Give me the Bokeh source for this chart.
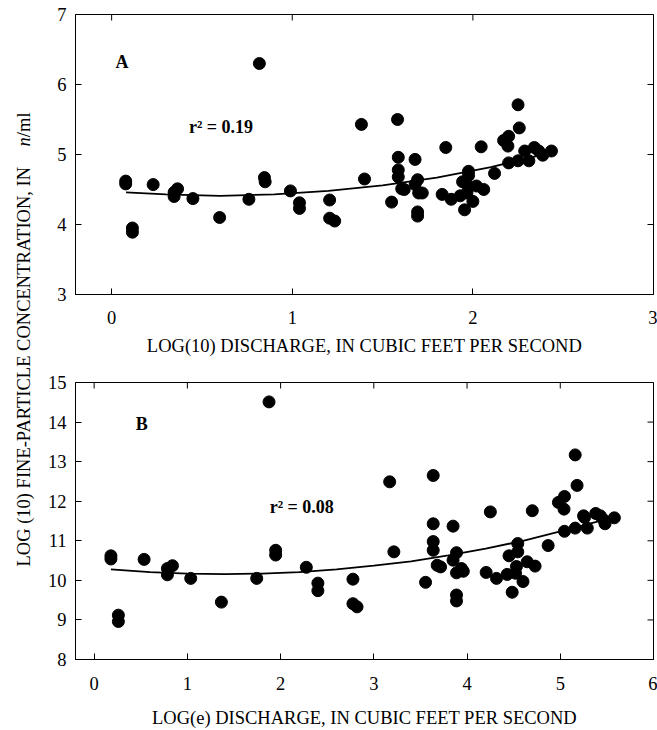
import math
from bokeh.plotting import figure
from bokeh.models import Range1d, Label, FixedTicker
from bokeh.layouts import row, column
from bokeh.embed import file_html
from bokeh.resources import INLINE

FONT = "Liberation Serif"

# ---------------- data: panel A (log10 discharge) ----------------
a_x = [0.078, 0.078, 0.115, 0.115, 0.23, 0.346, 0.346, 0.365, 0.45, 0.598,
       0.76, 0.818, 0.846, 0.85, 0.99, 1.04, 1.04, 1.207, 1.207, 1.235,
       1.383, 1.40, 1.55, 1.583, 1.587, 1.587, 1.587, 1.606, 1.62, 1.68,
       1.694, 1.68, 1.70, 1.72, 1.694, 1.694, 1.85, 1.83, 1.88, 1.93,
       1.954, 1.976, 1.976, 1.943, 1.976, 1.967, 2.02, 2.0, 2.06, 2.046,
       2.12, 2.17, 2.198, 2.194, 2.25, 2.257, 2.198, 2.25, 2.31, 2.287,
       2.34, 2.365, 2.387, 2.435]
a_y = [4.62, 4.58, 3.95, 3.89, 4.57, 4.46, 4.40, 4.51, 4.37, 4.10,
       4.36, 6.30, 4.67, 4.61, 4.48, 4.31, 4.23, 4.35, 4.09, 4.05,
       5.43, 4.65, 4.32, 5.50, 4.96, 4.78, 4.68, 4.51, 4.50, 4.93,
       4.64, 4.57, 4.45, 4.45, 4.18, 4.12, 5.10, 4.43, 4.36, 4.41,
       4.21, 4.76, 4.70, 4.61, 4.54, 4.45, 4.55, 4.33, 4.50, 5.11,
       4.73, 5.20, 5.26, 5.12, 5.71, 5.38, 4.88, 4.91, 4.91, 5.05,
       5.10, 5.05, 4.99, 5.05]
a_fit_x = [0.08, 0.3, 0.6, 0.9, 1.2, 1.5, 1.8, 2.1, 2.42]
a_fit_y = [4.46, 4.43, 4.41, 4.43, 4.48, 4.56, 4.67, 4.82, 5.02]
a_xticks = [0, 1, 2, 3]
a_yticks = [3, 4, 5, 6, 7]

# ---------------- data: panel B (ln discharge) ----------------
b_x = [0.18, 0.18, 0.26, 0.26, 0.536, 0.786, 0.786, 0.84, 1.036, 1.365,
       1.744, 1.876, 1.947, 1.947, 2.276, 2.40, 2.40, 2.776, 2.776, 2.82,
       3.17, 3.215, 3.555, 3.637, 3.637, 3.637, 3.637, 3.68, 3.716, 3.85,
       3.887, 3.85, 3.887, 3.94, 3.96, 3.887, 3.887, 4.25, 4.205, 4.316,
       4.43, 4.484, 4.544, 4.544, 4.45, 4.53, 4.52, 4.60, 4.645, 4.73,
       4.70, 4.87, 4.98, 5.045, 5.04, 5.16, 5.18, 5.045, 5.16, 5.25,
       5.26, 5.29, 5.38, 5.43, 5.47, 5.48, 5.58]
b_y = [10.62, 10.54, 9.12, 8.96, 10.53, 10.30, 10.14, 10.37, 10.05, 9.45,
       10.05, 14.51, 10.76, 10.64, 10.33, 9.93, 9.74, 10.03, 9.41, 9.33,
       12.49, 10.72, 9.95, 12.65, 11.43, 10.98, 10.76, 10.38, 10.34, 11.37,
       10.70, 10.51, 10.19, 10.30, 10.23, 9.63, 9.48, 11.73, 10.20, 10.05,
       10.15, 9.70, 10.93, 10.72, 10.62, 10.35, 10.18, 9.97, 10.47, 10.36,
       11.76, 10.88, 11.97, 12.12, 11.80, 13.17, 12.40, 11.24, 11.32, 11.63,
       11.59, 11.32, 11.69, 11.63, 11.52, 11.43, 11.58]
b_fit_x = [0.18, 0.6, 1.0, 1.4, 1.8, 2.2, 2.6, 3.0, 3.4, 3.8, 4.2, 4.6, 5.0, 5.5]
b_fit_y = [10.28, 10.21, 10.17, 10.16, 10.17, 10.21, 10.28, 10.37, 10.48, 10.63,
           10.80, 11.00, 11.24, 11.55]
b_xticks = [0, 1, 2, 3, 4, 5, 6]
b_yticks = [8, 9, 10, 11, 12, 13, 14, 15]

TS = "18.5px"


def style_axis(ax, ticks):
    ax.ticker = FixedTicker(ticks=ticks)
    ax.major_tick_in = 6
    ax.major_tick_out = 0
    ax.minor_tick_in = 0
    ax.minor_tick_out = 0
    ax.axis_line_color = "black"
    ax.major_tick_line_color = "black"
    ax.major_label_text_font = FONT
    ax.major_label_text_color = "black"
    ax.major_label_text_font_size = TS


def panel(xr, yr, xticks, yticks, h, top, bottom, xlabel, lstand, astand):
    p = figure(width=619, height=h, x_range=Range1d(*xr), y_range=Range1d(*yr),
               output_backend="svg", toolbar_location=None,
               min_border_left=37, min_border_right=4,
               min_border_top=top, min_border_bottom=bottom)
    p.grid.visible = False
    p.outline_line_color = "black"
    style_axis(p.xaxis[0], xticks)
    style_axis(p.yaxis[0], yticks)
    p.xaxis[0].major_label_standoff = lstand
    p.yaxis[0].major_label_standoff = 9
    p.xaxis[0].axis_label = xlabel
    p.xaxis[0].axis_label_text_font = FONT
    p.xaxis[0].axis_label_text_font_size = TS
    p.xaxis[0].axis_label_text_font_style = "normal"
    p.xaxis[0].axis_label_text_color = "black"
    p.xaxis[0].axis_label_standoff = astand
    # inward ticks on the top and right edges of the frame
    p.ray(x=xticks, y=[yr[1]] * len(xticks), length=6, length_units="screen",
          angle=-math.pi / 2, line_color="black", line_width=1)
    p.ray(x=[xr[1]] * len(yticks), y=yticks, length=6, length_units="screen",
          angle=math.pi, line_color="black", line_width=1)
    return p


def txt(p, x, y, s):
    p.add_layout(Label(x=x, y=y, text=s, text_font=FONT, text_font_style="bold",
                       text_font_size="18px", text_color="black",
                       text_baseline="bottom"))


pa = panel((-0.2, 3), (3, 7), a_xticks, a_yticks, 358, 14, 64,
           "LOG(10) DISCHARGE, IN CUBIC FEET PER SECOND", 16, 9)
pa.line(a_fit_x, a_fit_y, line_color="black", line_width=1.8)
pa.scatter(a_x, a_y, size=12, fill_color="black", line_color="black")
txt(pa, 0.022, 6.176, "A")
txt(pa, 0.428, 5.248, "r\u00b2 = 0.19")

pb = panel((-0.2, 6), (8, 15), b_xticks, b_yticks, 372, 24, 68,
           "LOG(e) DISCHARGE, IN CUBIC FEET PER SECOND", 17, 15)
pb.line(b_fit_x, b_fit_y, line_color="black", line_width=1.8)
pb.scatter(b_x, b_y, size=12, fill_color="black", line_color="black")
txt(pb, 0.447, 13.70, "B")
txt(pb, 1.883, 11.59, "r\u00b2 = 0.08")

# shared y-axis title (three pieces so that "n" can be italic)
lf = figure(width=38, height=730, x_range=Range1d(0, 38), y_range=Range1d(0, 730),
            output_backend="svg", toolbar_location=None,
            x_axis_location=None, y_axis_location=None,
            min_border_left=0, min_border_right=0, min_border_top=0, min_border_bottom=0)
lf.grid.visible = False
lf.outline_line_color = None
fs = 18.5
y0 = 164
w1 = 22.458 * fs + 0.25 * fs
w2 = 0.5 * fs
for s, yy, style in [("LOG (10) FINE-PARTICLE CONCENTRATION, IN", y0, "normal"),
                     ("n", y0 + w1, "italic"),
                     ("/ml", y0 + w1 + w2, "normal")]:
    lf.add_layout(Label(x=23.3, y=yy, text=s, angle=math.pi / 2, text_font=FONT,
                        text_font_size=TS, text_font_style=style, text_color="black",
                        text_align="left", text_baseline="alphabetic"))

p = row(lf, column(pa, pb))
open("out.html", "w").write(file_html(p, INLINE))
